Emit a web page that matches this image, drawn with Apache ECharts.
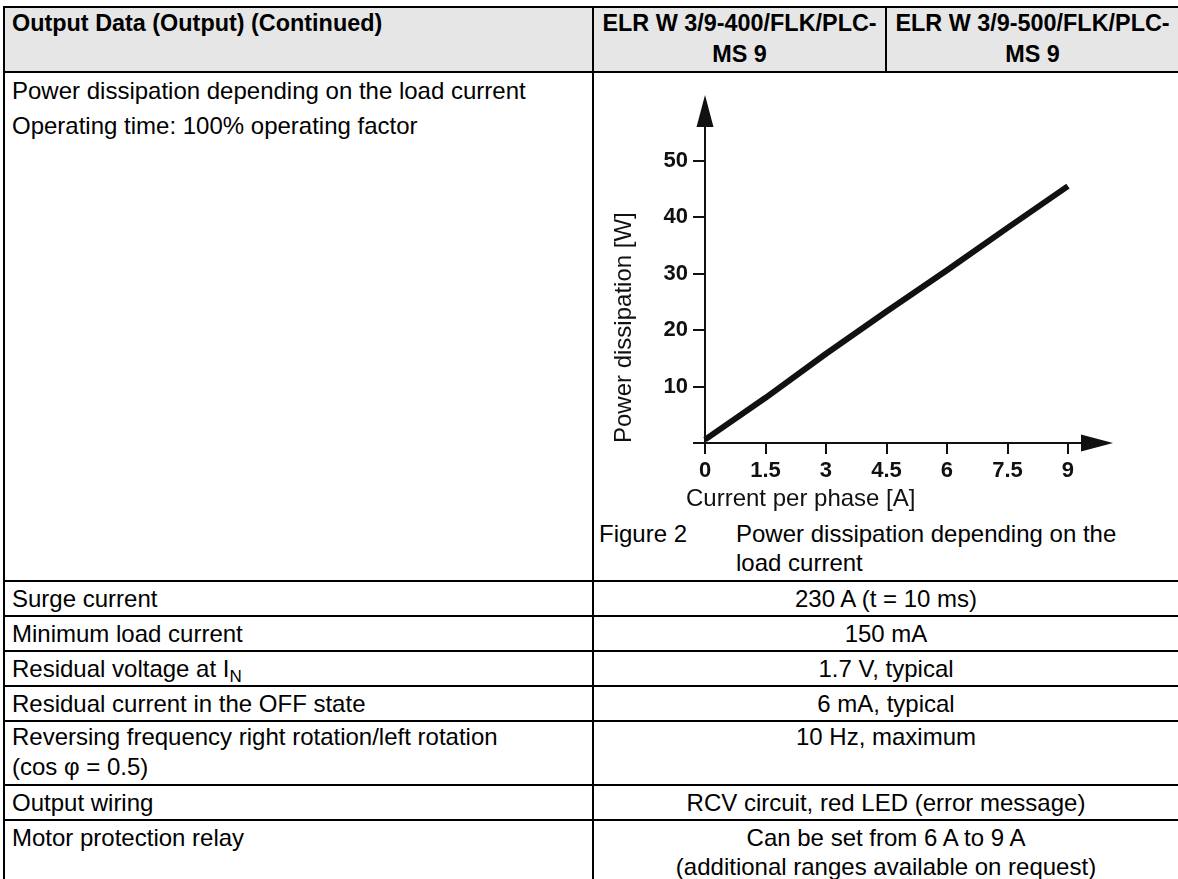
<!DOCTYPE html>
<html>
<head>
<meta charset="utf-8">
<script src="https://cdn.jsdelivr.net/npm/echarts@6.0.0/dist/echarts.min.js"></script>
<style>
html,body{margin:0;padding:0;background:#fff;}
body{width:1178px;height:879px;overflow:hidden;position:relative;font-family:"Liberation Sans",Arial,Helvetica,sans-serif;font-size:24px;color:#000;}
table{position:absolute;left:3px;top:6px;border-collapse:collapse;table-layout:fixed;width:1175px;}
td,th{border:2px solid #000;padding:0 0 0 7px;vertical-align:top;line-height:33px;text-align:left;}
th{background:#e6e6e6;font-weight:bold;font-size:23.4px;line-height:31px;}
th.c,td.c{text-align:center;padding:0;}
td.two{line-height:30px;}
td.motor{line-height:29px;padding-top:2px;}
.chartcell{padding:0;}
#chart_1{width:584px;height:440px;}
.caption{display:flex;margin-top:6px;padding-left:5px;line-height:29px;}
.caption .num{width:137px;flex:none;}
.caption .txt{width:420px;}
.pline{line-height:35px;}
sub{font-size:17px;line-height:0;vertical-align:-5px;}
</style>
</head>
<body>
<table>
  <colgroup><col style="width:589px"><col style="width:293px"><col style="width:293px"></colgroup>
  <tr style="height:65px">
    <th>Output Data (Output) (Continued)</th>
    <th class="c">ELR W 3/9-400/FLK/PLC-<br>MS 9</th>
    <th class="c">ELR W 3/9-500/FLK/PLC-<br>MS 9</th>
  </tr>
  <tr style="height:509px">
    <td>
      <div class="pline">Power dissipation depending on the load current</div>
      <div class="pline">Operating time: 100% operating factor</div>
    </td>
    <td colspan="2" class="chartcell">
      <div id="chart_1"></div>
      <div class="caption"><div class="num">Figure 2</div><div class="txt">Power dissipation depending on the<br>load current</div></div>
    </td>
  </tr>
  <tr style="height:35px"><td>Surge current</td><td colspan="2" class="c">230 A (t = 10 ms)</td></tr>
  <tr style="height:35px"><td>Minimum load current</td><td colspan="2" class="c">150 mA</td></tr>
  <tr style="height:35px"><td>Residual voltage at I<sub>N</sub></td><td colspan="2" class="c">1.7 V, typical</td></tr>
  <tr style="height:34px"><td>Residual current in the OFF state</td><td colspan="2" class="c">6 mA, typical</td></tr>
  <tr style="height:64px"><td class="two">Reversing frequency right rotation/left rotation<br>(cos &phi; = 0.5)</td><td colspan="2" class="c two">10 Hz, maximum</td></tr>
  <tr style="height:35px"><td>Output wiring</td><td colspan="2" class="c">RCV circuit, red LED (error message)</td></tr>
  <tr style="height:62px"><td class="motor">Motor protection relay</td><td colspan="2" class="c motor">Can be set from 6 A to 9 A<br>(additional ranges available on request)</td></tr>
</table>
<script>
// current per phase [A] / power dissipation [W]
var currentValues = [0, 1.5, 3, 4.5, 6, 7.5, 9];
var powerValues = [0.6, 8.0, 15.8, 23.3, 30.6, 38.1, 45.5];
var xTickValues = [0, 1.5, 3, 4.5, 6, 7.5, 9];
var yTickValues = [0, 10, 20, 30, 40, 50];
var yLabelValues = [10, 20, 30, 40, 50];
var xAxisName = 'Current per phase [A]';
var yAxisName = 'Power dissipation [W]';

function createDissipationChart(id){
	var myChart = echarts.init(document.getElementById(id));
	var fontFam = '"Liberation Sans", Arial, sans-serif';
	var data = [];
	for(var i=0;i<currentValues.length;i++){
		data.push([currentValues[i], powerValues[i]]);
	}
	var axisLine = {
		lineStyle: {color: '#111', width: 2},
		symbol: ['none', 'triangle'],
		symbolSize: [17, 32]
	};
	var option = {
		animation: false,
		grid: {left: 111, top: 38, width: 392, height: 332},
		xAxis: {
			type: 'value',
			min: 0,
			max: 9.72,
			splitLine: {show: false},
			axisLine: axisLine,
			axisTick: {customValues: xTickValues, length: 11, lineStyle: {color: '#111', width: 2}},
			axisLabel: {customValues: xTickValues, margin: 17, color: '#111', fontSize: 22, fontWeight: 'bold', fontFamily: fontFam}
		},
		yAxis: {
			type: 'value',
			min: 0,
			max: 58.8,
			splitLine: {show: false},
			axisLine: axisLine,
			axisTick: {customValues: yTickValues, length: 12, lineStyle: {color: '#111', width: 2}},
			axisLabel: {customValues: yLabelValues, margin: 17, color: '#111', fontSize: 22, fontWeight: 'bold', fontFamily: fontFam}
		},
		graphic: [
			{type: 'text', x: 30, y: 370, rotation: Math.PI / 2, style: {text: yAxisName, fontSize: 24, fontFamily: fontFam, fill: '#111', align: 'left', verticalAlign: 'middle'}},
			{type: 'text', x: 92, y: 426, style: {text: xAxisName, fontSize: 24, fontFamily: fontFam, fill: '#111', align: 'left', verticalAlign: 'middle'}}
		],
		series: [
			{
				type: 'line',
				data: data,
				symbol: 'none',
				lineStyle: {color: '#111', width: 6}
			}
		]
	};
	myChart.setOption(option);
	return myChart;
}
createDissipationChart('chart_1');
</script>
</body>
</html>
